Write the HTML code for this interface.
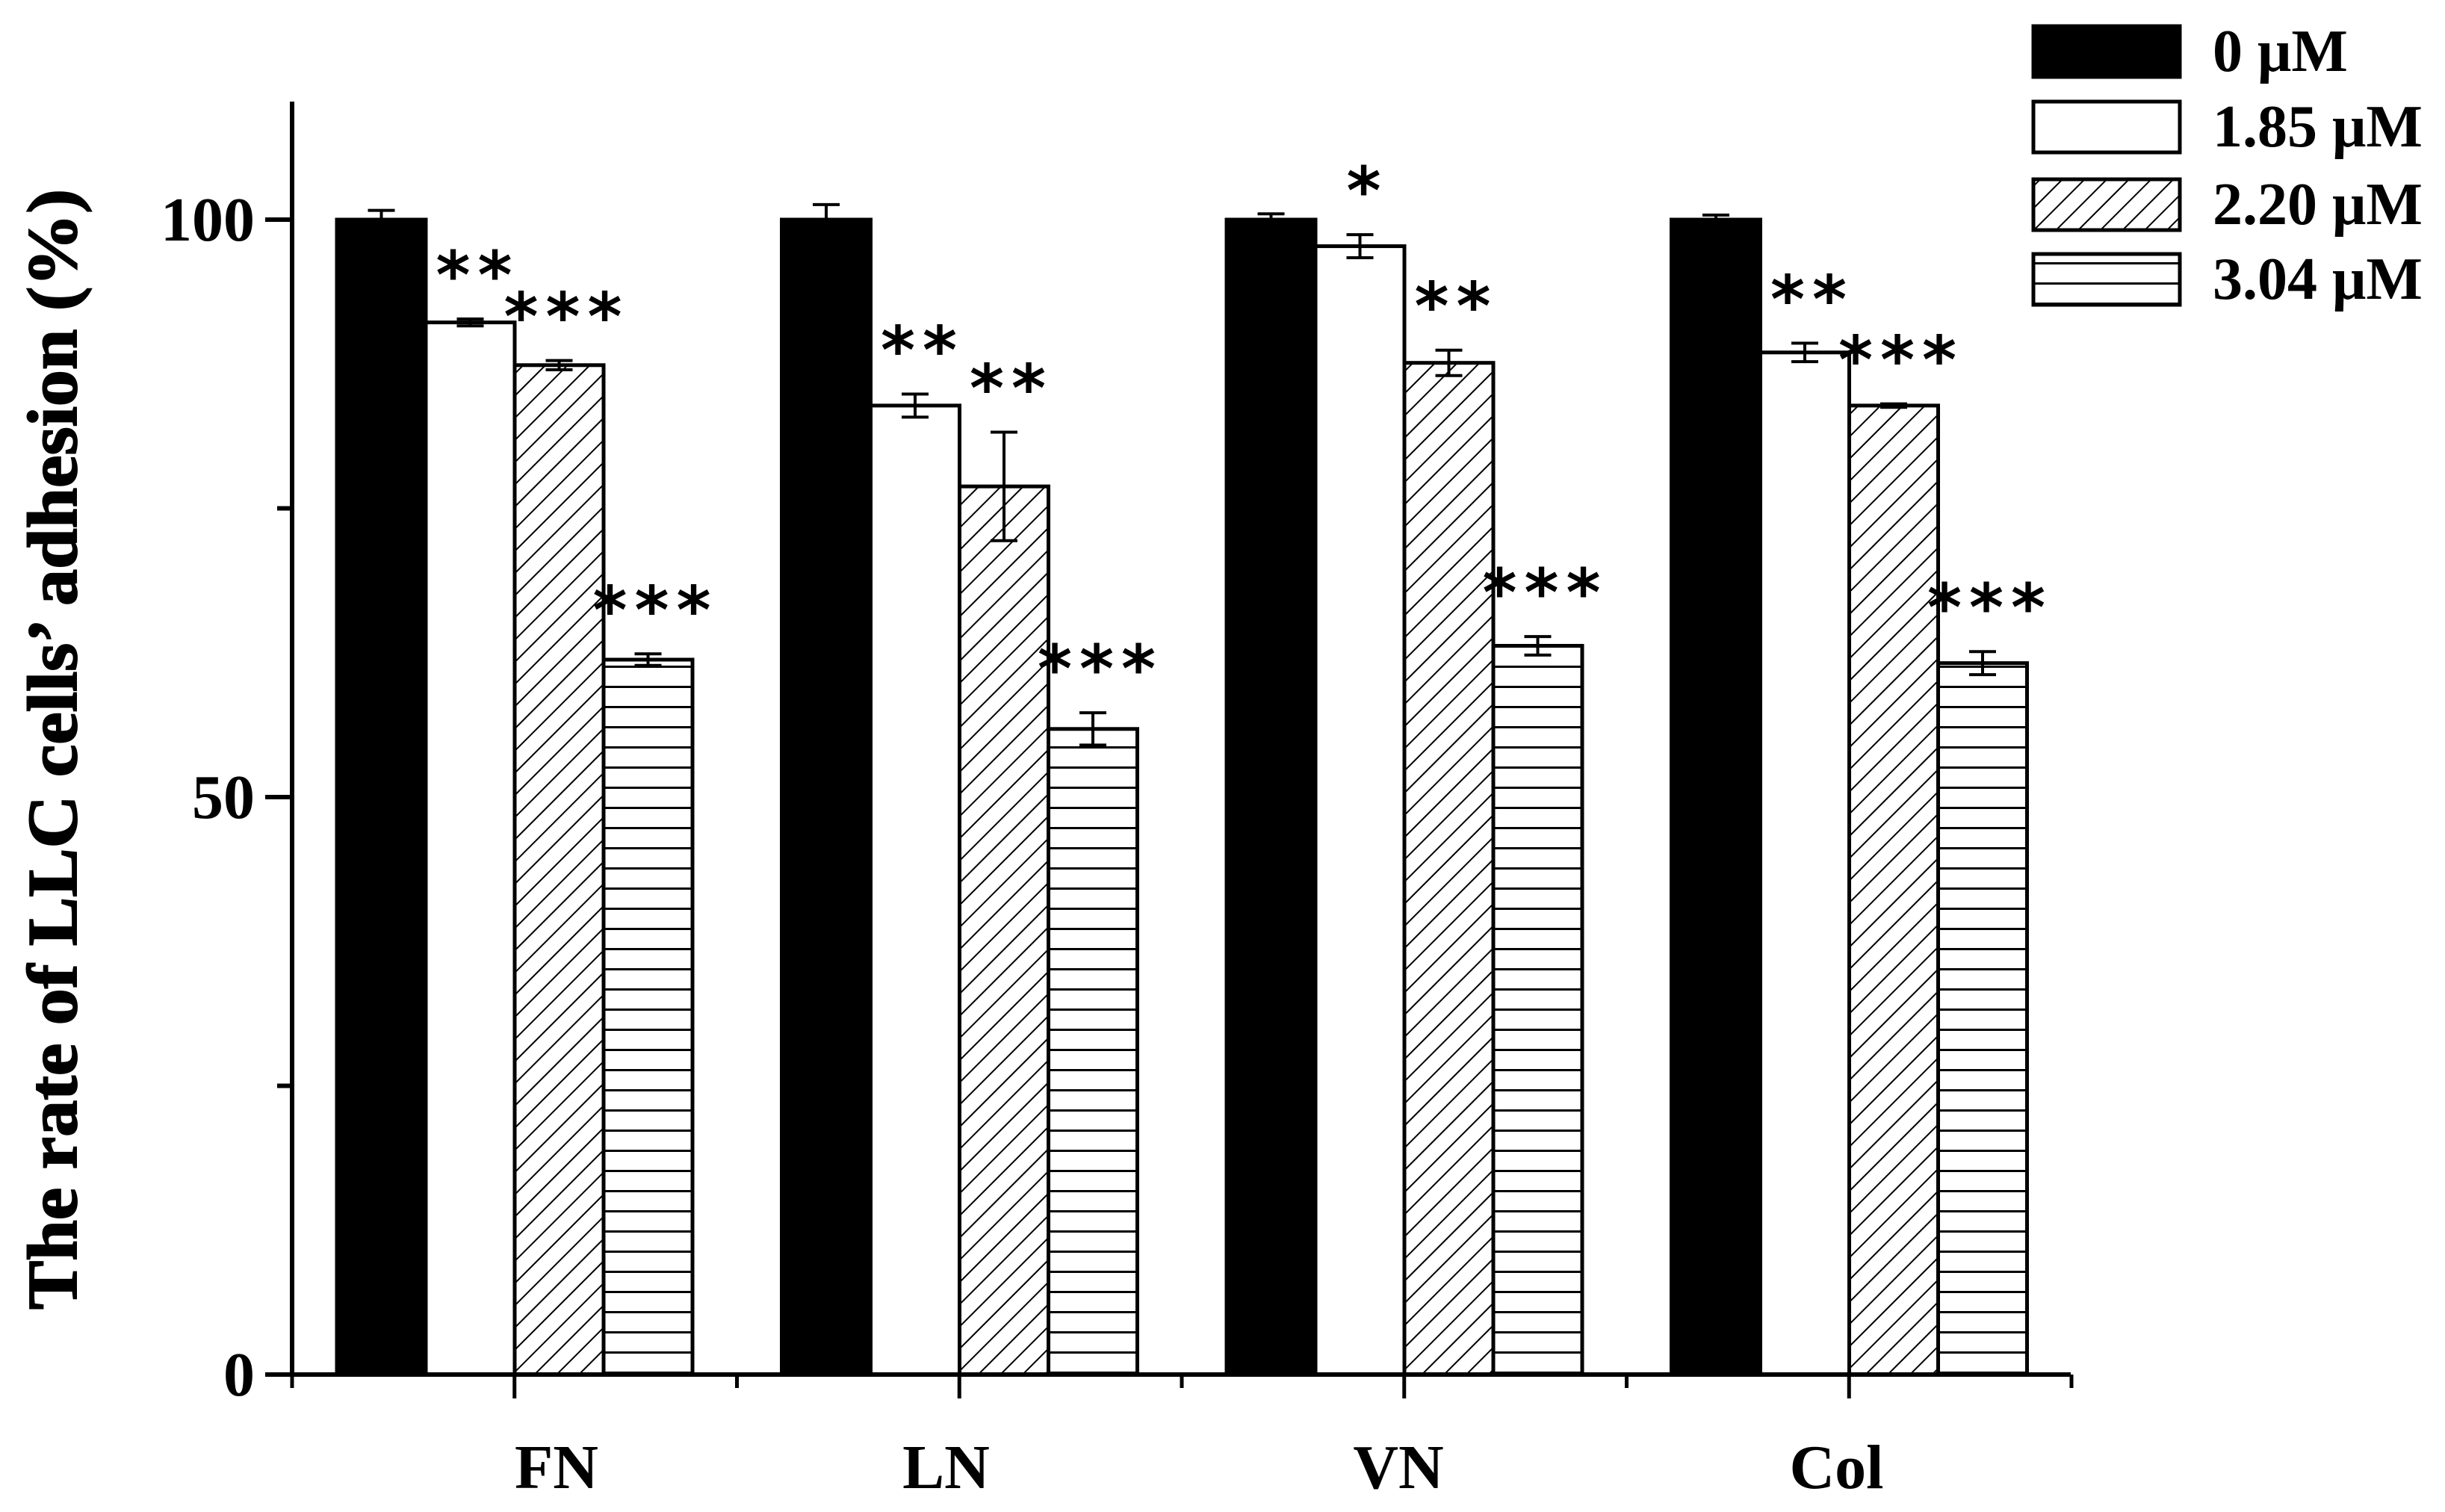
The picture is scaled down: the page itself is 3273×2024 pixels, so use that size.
<!DOCTYPE html>
<html><head><meta charset="utf-8"><style>
html,body{margin:0;padding:0;background:#fff;}
svg{display:block;font-family:"Liberation Serif",serif;font-weight:bold;}
</style></head><body>
<svg id="chart" width="3273" height="2024" viewBox="0 0 3273 2024" xmlns="http://www.w3.org/2000/svg">
<defs>
<pattern id="diag" patternUnits="userSpaceOnUse" width="21" height="21" patternTransform="rotate(45)">
<rect width="21" height="21" fill="#fff"/><line x1="0" y1="0" x2="0" y2="21" stroke="#000" stroke-width="4"/></pattern>
<pattern id="horiz" patternUnits="userSpaceOnUse" width="20" height="27">
<rect width="20" height="27" fill="#fff"/><line x1="0" y1="1.5" x2="20" y2="1.5" stroke="#000" stroke-width="3"/></pattern>
</defs>
<g id="plot"></g>
</svg>
<script>
const categories = ["FN","LN","VN","Col"];
const seriesNames = ["0 μM","1.85 μM","2.20 μM","3.04 μM"];
const s0 = [100,100,100,100];
const s1 = [91.1,83.9,97.7,88.5];
const s2 = [87.4,76.9,87.6,83.9];
const s3 = [61.9,55.9,63.1,61.6];
const e0 = [0.8,1.3,0.5,0.4];
const e1 = [0.3,1.0,1.0,0.8];
const e2 = [0.4,4.7,1.1,0.15];
const e3 = [0.5,1.4,0.8,1.0];
const sig1 = ["**","**","*","**"];
const sig2 = ["***","**","**","***"];
const sig3 = ["***","***","***","***"];
const yTicks = [0,50,100];
const yMinor = [25,75];

const NS="http://www.w3.org/2000/svg";
const g=document.getElementById('plot');
function el(t,a,p){const e=document.createElementNS(NS,t);for(const k in a)e.setAttribute(k,a[k]);(p||g).appendChild(e);return e;}
const X0=391, X1=2772, Y0=1840, YTOP=136;
const pxPerUnit=(1840-294)/100;
function y(v){return Y0-v*pxPerUnit;}
const groupW=595.5;
function xc(i){return 689+i*groupW;}
const barW=119;
const series=[s0,s1,s2,s3], errs=[e0,e1,e2,e3], sigs=[null,sig1,sig2,sig3];
const fills=["#000","#fff","url(#diag)","url(#horiz)"];
const labelOffset=[56,-18,-8,-17];

for(let i=0;i<categories.length;i++){
  for(let s=0;s<4;s++){
    const v=series[s][i], x=xc(i)-2*barW+s*barW;
    const r=el('rect',{x:x,y:y(v),width:barW,height:Y0-y(v),fill:fills[s],stroke:'#000','stroke-width':5});
    
    
    const e=errs[s][i], cx=x+barW/2;
    const eb=el('path',{d:`M${cx} ${y(v+e)}V${y(v-e)}M${cx-18} ${y(v+e)}H${cx+18}M${cx-18} ${y(v-e)}H${cx+18}`,stroke:'#000','stroke-width':4,fill:'none'});
    
    
    if(sigs[s]){
      const t=el('text',{x:cx+10,y:y(v+e)-28,'text-anchor':'middle','font-size':88,'letter-spacing':10,'font-weight':'bold','font-family':'"DejaVu Sans",sans-serif'});
      t.textContent=sigs[s][i];
      
      
    }
  }
  const lb=el('text',{x:xc(i)+labelOffset[i],y:1992,'text-anchor':'middle','font-size':84});
  lb.textContent=categories[i];
  
  
}
const ax=el('path',{d:`M${X0} ${YTOP}V${Y0}H${X1}`,stroke:'#000','stroke-width':6,fill:'none'});


for(const t of yTicks){
  const tk=el('line',{x1:X0-36,x2:X0,y1:y(t),y2:y(t),stroke:'#000','stroke-width':6});
  
  
  const tl=el('text',{x:X0-50,y:y(t)+28,'text-anchor':'end','font-size':84});
  tl.textContent=t;
  
  
}
for(const t of yMinor){
  const tk=el('line',{x1:X0-20,x2:X0,y1:y(t),y2:y(t),stroke:'#000','stroke-width':6});
  
  
}
for(let k=0;k<9;k++){
  const xx=X0+k*groupW/2, major=k%2===1;
  const tk=el('line',{x1:xx,x2:xx,y1:Y0,y2:Y0+(major?32:18),stroke:'#000','stroke-width':5});
  
  
}
const yt=el('text',{x:0,y:0,transform:'translate(102 1003) rotate(-90)','text-anchor':'middle','font-size':94,'stroke':'#000','stroke-width':2,textLength:1500,lengthAdjust:'spacingAndGlyphs'});
yt.textContent="The rate of LLC cells’ adhesion (%)";


const ly=[35,136,240,340];
for(let s=0;s<4;s++){
  const r=el('rect',{x:2722,y:ly[s],width:196,height:68,fill:fills[s],stroke:'#000','stroke-width':5});
  
  
  const t=el('text',{x:2962,y:ly[s]+60,'font-size':80});
  t.textContent=seriesNames[s];
  
  
}
</script>
</body></html>
